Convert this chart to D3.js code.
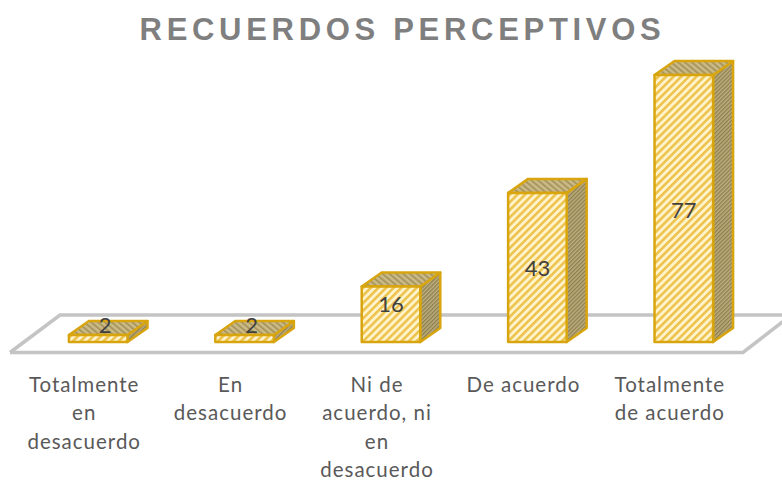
<!DOCTYPE html>
<html><head><meta charset="utf-8">
<style>html,body{margin:0;padding:0;background:#fff}svg{display:block}</style>
<script src="https://cdn.jsdelivr.net/npm/d3@7"></script>
</head><body><svg id="c" width="782" height="480"></svg>
<script>
const categories=[["Totalmente","en","desacuerdo"],["En","desacuerdo"],["Ni de","acuerdo, ni","en","desacuerdo"],["De acuerdo"],["Totalmente","de acuerdo"]];
const values=[2,2,16,43,77];
const chartTitle="RECUERDOS PERCEPTIVOS";
const svg=d3.select("#c");
const W=782,H=480,baseY=342,dx=20,dy=-14;
const x=d3.scaleBand().domain(d3.range(values.length)).range([25,757]).paddingInner(.6).paddingOuter(.3);
const y=d3.scaleLinear().domain([0,77]).range([baseY,75]);
const defs=svg.append("defs");
function pat(id,bg,fg,size,sw,rot){
  const p=defs.append("pattern").attr("id",id).attr("patternUnits","userSpaceOnUse").attr("width",size).attr("height",size).attr("patternTransform",`rotate(${rot})`);
  p.append("rect").attr("width",size).attr("height",size).attr("fill",bg);
  p.append("rect").attr("width",sw).attr("height",size).attr("fill",fg);
}
pat("pf","#fff3cc","#ecc24a",5.4,2.5,45);
pat("pt","#cbbb8a","#a8965c",4.4,2,-50);
pat("ps","#bcae82","#8f7f4a",2.8,1.3,45);
const floorColor="#c4c4c4";
svg.append("path").attr("d",d3.line()([[10,352.5],[60,315],[790,315]])).attr("fill","none").attr("stroke",floorColor).attr("stroke-width",3.6);
svg.append("path").attr("d",d3.line()([[10,352.5],[743,352.5],[790,316]])).attr("fill","none").attr("stroke",floorColor).attr("stroke-width",3.6);
const stroke="#d8a50f";
const labelNudge=[0,0,-10,1,2];
const g=svg.selectAll("g.bar").data(values).join("g").attr("class","bar");
g.each(function(v,i){
  const s=d3.select(this),x0=x(i),w=x.bandwidth(),x1=x0+w,t=y(v),b=baseY;
  const add=(pts,fill)=>s.append("path").attr("d",d3.line()(pts)+"Z").attr("fill",fill).attr("stroke",stroke).attr("stroke-width",2.5).attr("stroke-linejoin","round");
  add([[x1,t],[x1+dx,t+dy],[x1+dx,b+dy],[x1,b]],"url(#ps)");
  add([[x0,t],[x0+dx,t+dy],[x1+dx,t+dy],[x1,t]],"url(#pt)");
  add([[x0,t],[x1,t],[x1,b],[x0,b]],"url(#pf)");
  s.append("text").attr("x",x0+w/2+(i<2?7:0)).attr("y",i<2?t-2:(t+b)/2+7.5+labelNudge[i]).attr("text-anchor","middle").attr("font-family","Lato").attr("font-size",22).attr("fill","#404040").text(v);
});
svg.append("text").attr("x",402.5).attr("y",40).attr("text-anchor","middle").attr("font-family","Liberation Sans").attr("font-weight","bold").attr("font-size",31).attr("letter-spacing",4.7).attr("fill","#7f7f7f").text(chartTitle);
categories.forEach((lines,i)=>{
  const t=svg.append("text").attr("text-anchor","middle").attr("font-family","Lato").attr("font-size",20.5).attr("letter-spacing",1).attr("fill","#595959");
  lines.forEach((l,j)=>t.append("tspan").attr("x",x(i)+x.bandwidth()/2-14).attr("y",391.5+j*28.6).text(l));
});
</script></body></html>
